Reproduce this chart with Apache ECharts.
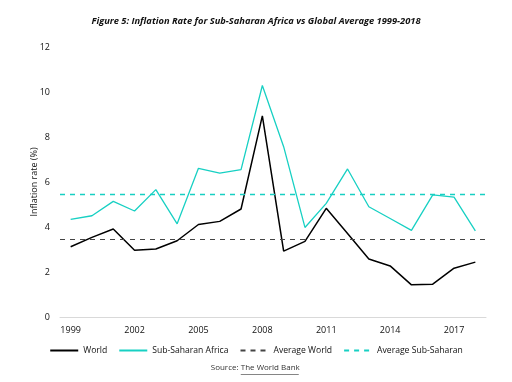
<!DOCTYPE html>
<html><head><meta charset="utf-8">
<script src="https://cdn.jsdelivr.net/npm/echarts@6/dist/echarts.min.js"></script>
<style>html,body{margin:0;padding:0;background:#fff}#c{width:512px;height:382px}</style>
</head><body><div id="c"></div>
<script>
var years = ['1999','2000','2001','2002','2003','2004','2005','2006','2007','2008','2009','2010','2011','2012','2013','2014','2015','2016','2017','2018'];
var world = [3.12,3.54,3.91,2.97,3.02,3.39,4.11,4.25,4.80,8.94,2.93,3.36,4.83,3.71,2.58,2.27,1.43,1.46,2.17,2.44];
var ssa = [4.34,4.50,5.14,4.71,5.66,4.14,6.61,6.39,6.55,10.29,7.57,3.98,5.05,6.58,4.90,4.38,3.85,5.43,5.33,3.83];
var avgWorld = 3.46;
var avgSSA = 5.45;
var yTicks = [0,2,4,6,8,10,12];

var font = '"Open Sans", "Noto Sans", sans-serif';
var cyan = '#17D0C3';
var chart = echarts.init(document.getElementById('c'), null, {renderer:'canvas'});
chart.setOption({
  animation:false,
  textStyle:{fontFamily:font},
  title:{
    text:'Figure 5: Inflation Rate for Sub-Saharan Africa vs Global Average 1999-2018',
    left:'center', top:12,
    textStyle:{fontSize:9.3, fontWeight:'bold', fontStyle:'italic', color:'#111', fontFamily:font}
  },
  legend:{
    bottom:22, left:'center', itemWidth:28, itemHeight:10, itemGap:11,
    itemStyle:{opacity:0},
    textStyle:{fontSize:8.6, color:'#111', fontFamily:font},
    data:['World','Sub-Saharan Africa','Average World','Average Sub-Saharan']
  },
  grid:{left:60, right:26, top:47, bottom:65},
  xAxis:{
    type:'category', data:years, boundaryGap:true,
    axisLine:{lineStyle:{color:'#d9d9d9', width:1}},
    axisTick:{show:false},
    axisLabel:{interval:2, color:'#111', fontSize:9, margin:9, fontFamily:font}
  },
  yAxis:{
    type:'value', min:yTicks[0], max:yTicks[yTicks.length-1], interval:2,
    name:'Inflation rate (%)', nameLocation:'middle', nameGap:21, nameMoveOverlap:false,
    nameTextStyle:{fontSize:9, color:'#111', fontFamily:font},
    axisLine:{show:false}, axisTick:{show:false}, splitLine:{show:false},
    axisLabel:{color:'#111', fontSize:9, margin:10, fontFamily:font}
  },
  series:[
    {name:'World', type:'line', data:world, symbol:'none', lineStyle:{color:'#000', width:1.5}, itemStyle:{color:'#000'}},
    {name:'Sub-Saharan Africa', type:'line', data:ssa, symbol:'none', lineStyle:{color:cyan, width:1.3}, itemStyle:{color:cyan}},
    {name:'Average World', type:'line', data:[], symbol:'none', lineStyle:{color:'#444', width:1.2, type:[5,5]}, itemStyle:{color:'#444'},
      markLine:{silent:true, symbol:'none', label:{show:false}, lineStyle:{color:'#444', width:1.2, type:[5,5]}, data:[{yAxis:avgWorld}]}},
    {name:'Average Sub-Saharan', type:'line', data:[], symbol:'none', lineStyle:{color:cyan, width:1.3, type:[5,5]}, itemStyle:{color:cyan},
      markLine:{silent:true, symbol:'none', label:{show:false}, lineStyle:{color:cyan, width:1.3, type:[5,5]}, data:[{yAxis:avgSSA}]}}
  ],
  graphic:[
    {type:'group', left:'center', bottom:5, children:[
      {type:'text', left:0, top:0, style:{text:'Source:', font:'8px '+font, fill:'#333'}},
      {type:'text', left:30, top:0, style:{text:'The World Bank', font:'8px '+font, fill:'#333'}},
      {type:'line', shape:{x1:30, y1:11, x2:88, y2:11}, style:{stroke:'#333', lineWidth:0.6}}
    ]}
  ]
});
</script></body></html>
